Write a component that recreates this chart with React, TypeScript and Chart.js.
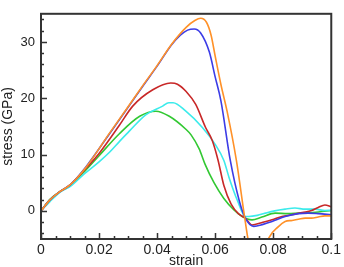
import React, { useEffect, useRef } from "react";
import { Chart, registerables } from "chart.js";

Chart.register(...registerables);

// ---- data ----
const orangeStrain = [0, 0.003, 0.0065, 0.01, 0.0156, 0.0236, 0.03, 0.035, 0.04, 0.045, 0.05, 0.053, 0.055, 0.057, 0.0586, 0.06, 0.062, 0.0641, 0.0673, 0.0702, 0.0715, 0.074, 0.0765, 0.0785, 0.0818, 0.0841, 0.0865, 0.0887, 0.091, 0.0932, 0.0955, 0.0978, 0.1];
const orangeStress = [0, 1.9, 3.4, 4.6, 7.8, 13.8, 18.5, 22.2, 25.8, 29.6, 32.6, 33.8, 34.2, 33.5, 31.2, 27.5, 22.4, 17.7, 9.0, -1.3, -5.5, -9, -8, -4.8, -2.8, -1.9, -1.7, -1.5, -1.3, -1.3, -1.1, -0.9, -0.9];

const blueStrain = [0, 0.003, 0.0065, 0.01, 0.0156, 0.0236, 0.03, 0.035, 0.04, 0.045, 0.048, 0.0505, 0.0528, 0.055, 0.058, 0.06, 0.062, 0.0652, 0.0683, 0.0704, 0.0733, 0.0765, 0.0796, 0.0841, 0.0887, 0.092, 0.0955, 0.1];
const blueStress = [0, 1.9, 3.4, 4.6, 7.9, 13.7, 18.4, 22.1, 25.7, 29.5, 31.2, 32.1, 32.3, 31.6, 28.2, 23.8, 19.5, 9.0, 1.8, -1.3, -2.75, -2.4, -1.9, -1.0, -0.5, -0.4, -0.5, -0.7];

const redStrain = [0, 0.003, 0.0065, 0.01, 0.0156, 0.02, 0.027, 0.0316, 0.0385, 0.0447, 0.047, 0.05, 0.0533, 0.0567, 0.059, 0.061, 0.063, 0.0655, 0.068, 0.0704, 0.0727, 0.076, 0.0796, 0.083, 0.0864, 0.09, 0.0932, 0.0955, 0.0978, 0.1];
const redStress = [0, 1.9, 3.4, 4.6, 7.6, 10.2, 15.2, 18.6, 21.5, 22.7, 22.5, 21.2, 18.9, 14.8, 12.5, 9.0, 4.5, 1.2, -0.5, -1.3, -2.5, -2.1, -1.6, -1.0, -0.7, -0.3, 0.05, 0.6, 1.05, 0.75];

const cyanStrain = [0, 0.003, 0.0065, 0.01, 0.015, 0.02, 0.0236, 0.027, 0.0305, 0.0362, 0.0419, 0.044, 0.0455, 0.0499, 0.0556, 0.06, 0.063, 0.0648, 0.0677, 0.0704, 0.0716, 0.0745, 0.0773, 0.0805, 0.0841, 0.0875, 0.091, 0.0945, 0.0978, 0.1];
const cyanStress = [0, 1.6, 3.3, 4.3, 6.6, 8.7, 10.4, 12.3, 14.2, 17.1, 18.6, 19.2, 19.2, 17.7, 14.8, 11.8, 8.95, 5.9, 1.8, -1.0, -1.0, -0.8, -0.4, 0.0, 0.3, 0.5, 0.3, 0.3, 0.05, 0.1];

const greenStrain = [0, 0.003, 0.0065, 0.01, 0.015, 0.02, 0.027, 0.034, 0.0396, 0.0442, 0.0499, 0.0517, 0.0545, 0.0565, 0.0596, 0.063, 0.0664, 0.0693, 0.0727, 0.0761, 0.0807, 0.085, 0.0887, 0.0955, 0.1];
const greenStress = [0, 2.0, 3.4, 4.5, 7.0, 9.8, 13.7, 16.8, 17.7, 16.8, 14.5, 13.5, 11.0, 8.3, 5.0, 2.2, 0.2, -1.0, -1.6, -1.1, -0.4, -0.5, -0.4, -0.2, 0.05];

const xTickValues = [0, 0.02, 0.04, 0.06, 0.08, 0.1];
const xTickLabels = ["0", "0.02", "0.04", "0.06", "0.08", "0.1"];
const yTickValues = [0, 10, 20, 30];
const yTickLabels = ["0", "10", "20", "30"];

const toPoints = (xs: number[], ys: number[]) => xs.map((x, i) => ({ x, y: ys[i] }));

const FONT = "'Liberation Sans', Arial, sans-serif";

const framePlugin = {
  id: "frameTicks",
  afterDatasetsDraw(chart: any) {
    const { ctx, chartArea, scales } = chart;
    const { left, right, top, bottom } = chartArea;
    const xs = scales.x;
    const ys = scales.y;
    ctx.save();
    ctx.strokeStyle = "#333";
    ctx.lineWidth = 1.5;
    ctx.beginPath();
    for (let v = 0; v <= 0.1 + 1e-9; v += 0.005) {
      const px = Math.round(xs.getPixelForValue(v)) + 0.5;
      const major = Math.abs(v / 0.02 - Math.round(v / 0.02)) < 1e-6;
      ctx.moveTo(px, bottom);
      ctx.lineTo(px, bottom - (major ? 6 : 3));
    }
    for (let v = -4; v <= 34; v += 2) {
      const py = Math.round(ys.getPixelForValue(v)) + 0.5;
      const major = v % 10 === 0;
      ctx.moveTo(left, py);
      ctx.lineTo(left + (major ? 6 : 3), py);
    }
    ctx.stroke();
    ctx.lineWidth = 2;
    ctx.strokeStyle = "#333";
    ctx.strokeRect(left, top, right - left, bottom - top);
    ctx.restore();
  },
};

export default function App() {
  const ref = useRef<HTMLCanvasElement | null>(null);
  useEffect(() => {
    if (!ref.current) return;
    const ds = (label: string, xs: number[], ys: number[], color: string) => ({
      label,
      data: toPoints(xs, ys),
      borderColor: color,
      backgroundColor: color,
      borderWidth: 1.6,
      pointRadius: 0,
      fill: false,
      cubicInterpolationMode: "monotone" as const,
    });
    const chart = new Chart(ref.current, {
      type: "line",
      data: {
        datasets: [
          ds("orange", orangeStrain, orangeStress, "rgb(255,145,40)"),
          ds("blue", blueStrain, blueStress, "rgb(60,60,230)"),
          ds("red", redStrain, redStress, "rgb(200,40,40)"),
          ds("cyan", cyanStrain, cyanStress, "rgb(60,235,235)"),
          ds("green", greenStrain, greenStress, "rgb(50,200,50)"),
        ],
      },
      options: {
        responsive: false,
        animation: false,
        devicePixelRatio: 1,
        layout: { padding: { left: 0, top: 12, right: 11, bottom: 0 } },
        plugins: { legend: { display: false }, tooltip: { enabled: false } },
        scales: {
          x: {
            type: "linear",
            min: 0,
            max: 0.1,
            grid: { display: false, drawTicks: false },
            border: { display: false },
            afterBuildTicks: (s: any) => {
              s.ticks = xTickValues.map((v) => ({ value: v }));
            },
            afterFit: (s: any) => {
              s.height = 28;
            },
            ticks: {
              autoSkip: false,
              maxRotation: 0,
              padding: 3,
              color: "#222",
              font: { family: FONT, size: 14 },
              callback: (_v: any, i: number) => xTickLabels[i],
            },
            title: {
              display: true,
              text: "strain",
              color: "#222",
              padding: { top: 0, bottom: -1 },
              font: { family: FONT, size: 14, lineHeight: 1 },
            },
          },
          y: {
            type: "linear",
            min: -5,
            max: 35,
            grid: { display: false, drawTicks: false },
            border: { display: false },
            afterBuildTicks: (s: any) => {
              s.ticks = yTickValues.map((v) => ({ value: v }));
            },
            afterFit: (s: any) => {
              s.width = 41;
            },
            ticks: {
              autoSkip: false,
              padding: 6,
              color: "#222",
              font: { family: FONT, size: 13 },
              callback: (_v: any, i: number) => yTickLabels[i],
            },
            title: {
              display: true,
              text: "stress (GPa)",
              color: "#222",
              padding: 0,
              font: { family: FONT, size: 14 },
            },
          },
        },
      },
      plugins: [framePlugin],
    });
    return () => chart.destroy();
  }, []);
  return (
    <div style={{ position: "absolute", left: 0, top: 0, width: 344, height: 267, background: "#fff" }}>
      <canvas ref={ref} width={344} height={267} style={{ display: "block" }} />
    </div>
  );
}
